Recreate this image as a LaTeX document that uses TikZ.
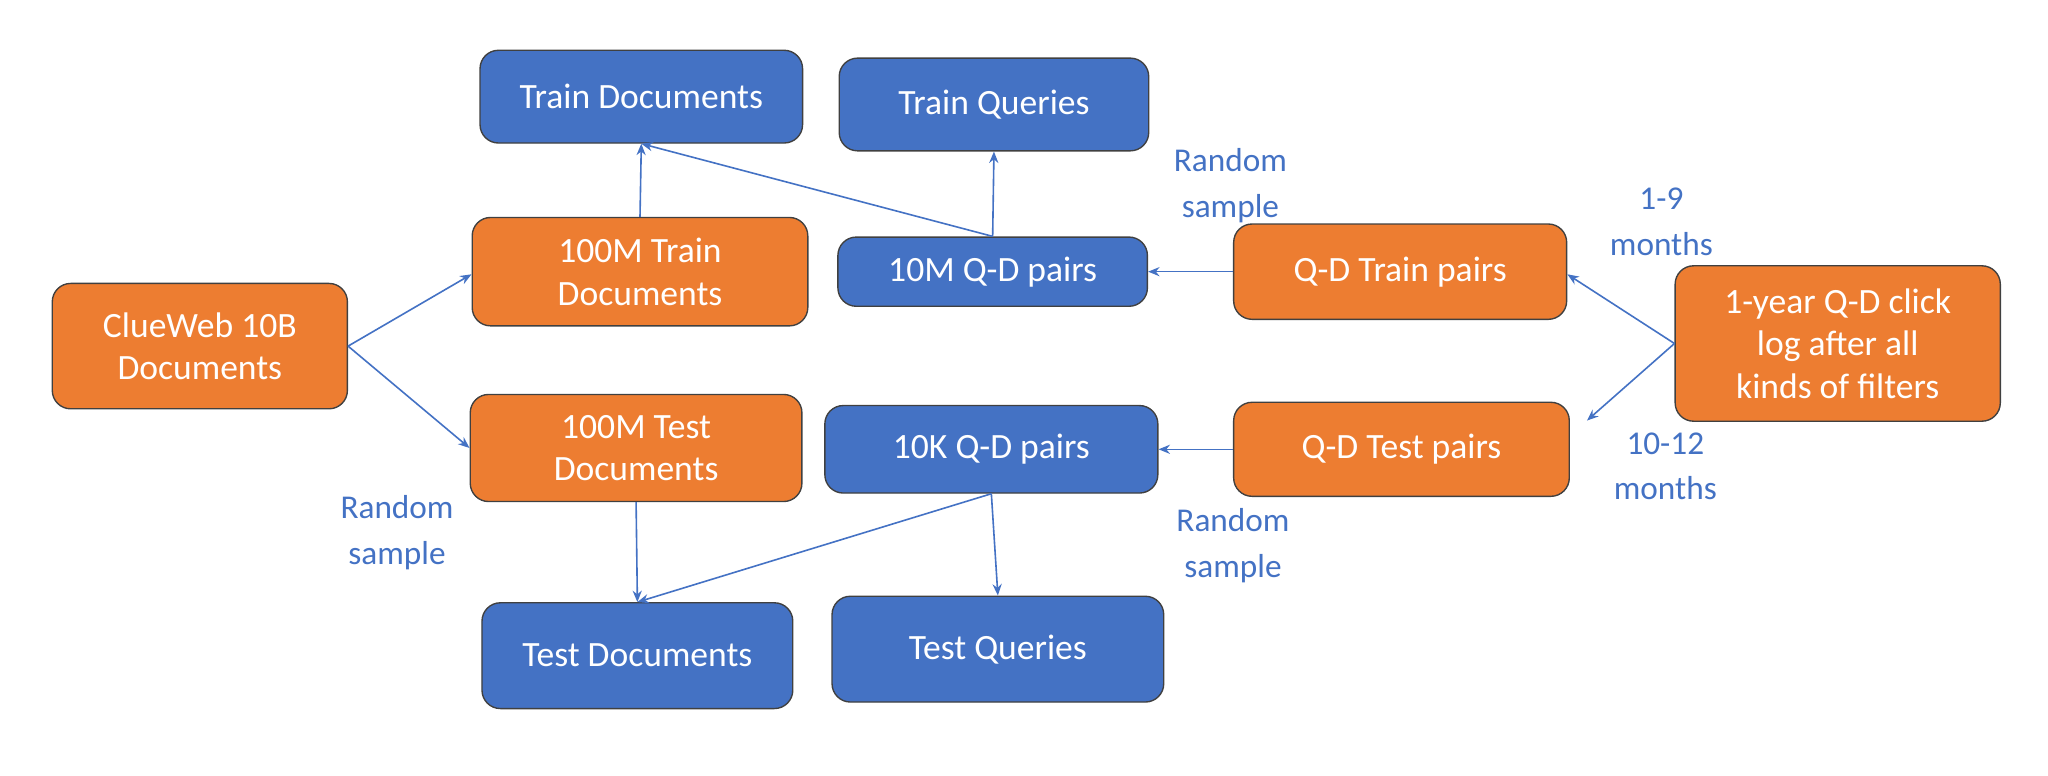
\documentclass[tikz,border=0pt]{standalone}
\usepackage{fontspec}
\setmainfont{Carlito}
\usetikzlibrary{calc,arrows.meta}
\definecolor{orng}{HTML}{ED7D31}
\definecolor{blu}{HTML}{4472C4}
\begin{document}
\begin{tikzpicture}[x=0.02cm,y=-0.02cm,
 box/.style={draw=black!75,rounded corners=8pt,text=white,align=center,font=\fontsize{15.5}{18.5}\selectfont,line width=0.6pt},
 ob/.style={box,fill=orng},
 bb/.style={box,fill=blu},
 lab/.style={text=blu,align=center,font=\fontsize{14.5}{20}\selectfont},
 ar/.style={-{Stealth[length=5pt,width=4pt]},draw=blu,line width=0.7pt}]
\useasboundingbox (0,0) rectangle (1568,594);
\node[ob,minimum width=4.52cm,minimum height=1.92cm] (cw) at (153,265) {ClueWeb 10B\\Documents};
\node[ob,minimum width=5.14cm,minimum height=1.66cm] (mtr) at (490,208) {100M Train\\Documents};
\node[ob,minimum width=5.08cm,minimum height=1.64cm] (mte) at (487,343) {100M Test\\Documents};
\node[bb,minimum width=4.94cm,minimum height=1.42cm] (td) at (491,74) {Train Documents};
\node[bb,minimum width=4.74cm,minimum height=1.42cm] (tq) at (761,80) {Train Queries};
\node[bb,minimum width=4.74cm,minimum height=1.06cm] (tm) at (760,208) {10M Q-D pairs};
\node[ob,minimum width=5.10cm,minimum height=1.46cm] (qtr) at (1072,208) {Q-D Train pairs};
\node[ob,minimum width=4.98cm,minimum height=2.38cm] (yr) at (1407,263) {1-year Q-D click\\log after all\\kinds of filters};
\node[ob,minimum width=5.14cm,minimum height=1.44cm] (qte) at (1073,344) {Q-D Test pairs};
\node[bb,minimum width=5.10cm,minimum height=1.34cm] (tk) at (759,344) {10K Q-D pairs};
\node[bb,minimum width=4.76cm,minimum height=1.62cm] (tsd) at (488,502) {Test Documents};
\node[bb,minimum width=5.08cm,minimum height=1.62cm] (tsq) at (764,497) {Test Queries};
\node[lab] (l1) at (942,142) {Random\\sample};
\node[lab] (l2) at (304,408) {Random\\sample};
\node[lab] (l3) at (944,418) {Random\\sample};
\node[lab] (l4) at (1272,170) {1-9\\months};
\node[lab] (l5) at (1275,357) {10-12\\months};
\draw[ar] (cw.east) -- ($(mtr.west)+(0,2)$);
\draw[ar] (cw.east) -- (mte.west);
\draw[ar] (mtr.north) -- (td.south);
\draw[ar] (tm.north) -- (tq.south);
\draw[ar] (tm.north) -- (td.south);
\draw[ar] (qtr.west) -- (tm.east);
\draw[ar] (yr.west) -- ($(qtr.east)+(0,2)$);
\draw[ar] (yr.west) -- ($(qte.east)+(13,-22)$);
\draw[ar] (qte.west) -- (tk.east);
\draw[ar] (tk.south) -- (tsd.north);
\draw[ar] (tk.south) -- (tsq.north);
\draw[ar] (mte.south) -- (tsd.north);
\end{tikzpicture}
\end{document}
